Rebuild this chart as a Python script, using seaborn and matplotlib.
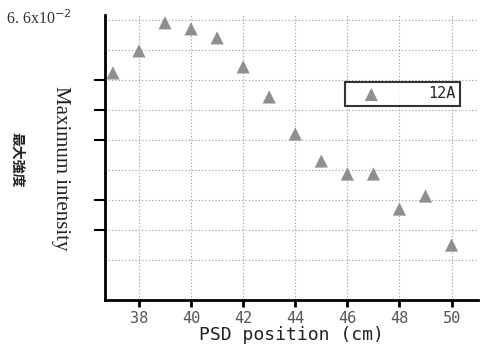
import matplotlib
matplotlib.use("Agg")
import matplotlib.pyplot as plt
import seaborn as sns
import pandas as pd
from matplotlib.ticker import FixedLocator, NullFormatter

# Data
psd_position = [37, 38, 39, 40, 41, 42, 43, 44, 45, 46, 47, 48, 49, 50]
max_intensity = [0.0607, 0.0629, 0.0657, 0.0651, 0.0642, 0.0613, 0.0583,
                 0.0546, 0.0519, 0.0506, 0.0506, 0.0471, 0.0484, 0.0435]
series_label = "12A"
x_ticks = [38, 40, 42, 44, 46, 48, 50]
grid_y = [0.042, 0.045, 0.048, 0.051, 0.054, 0.057, 0.060, 0.063, 0.066]
major_y = [0.045, 0.048, 0.054, 0.057, 0.060]

df = pd.DataFrame({"x": psd_position, "y": max_intensity})

sns.set_style("white")
plt.rcParams["font.family"] = ["DejaVu Sans"]

fig = plt.figure(figsize=(4.8, 3.45), dpi=100)
ax = fig.add_axes([0.219, 0.130, 0.776, 0.827])

sns.scatterplot(data=df, x="x", y="y", marker="^", s=90, color="#8f8f8f",
                edgecolor="none", label=series_label, ax=ax, zorder=3)

ax.set_xlim(36.7, 51.0)
ax.set_ylim(0.038, 0.0665)

ax.set_xticks(x_ticks)
ax.set_xticklabels([str(t) for t in x_ticks], family="DejaVu Sans Mono",
                   fontsize=11, color="#555555")
ax.yaxis.set_major_locator(FixedLocator(major_y))
ax.yaxis.set_major_formatter(NullFormatter())
ax.yaxis.set_minor_locator(FixedLocator(grid_y))

ax.tick_params(axis="both", left=True, bottom=True)
ax.tick_params(axis="x", which="major", direction="out", length=5, width=2,
               color="black", pad=3)
ax.tick_params(axis="y", which="major", direction="out", length=8, width=1.5,
               color="black")
ax.tick_params(axis="y", which="minor", length=0)

ax.grid(False)
ax.grid(True, axis="y", which="both", linestyle=(0, (1, 2)), color="#999999",
        linewidth=0.8)
ax.grid(True, axis="x", which="major", linestyle=(0, (1, 2)), color="#999999",
        linewidth=0.8)

for side in ["top", "right"]:
    ax.spines[side].set_visible(False)
for side in ["left", "bottom"]:
    ax.spines[side].set_linewidth(2)
    ax.spines[side].set_color("black")

ax.set_xlabel("PSD position (cm)", family="DejaVu Sans Mono", fontsize=13,
              color="#222222", labelpad=0)
ax.set_ylabel("")

leg = ax.legend(loc="upper left", bbox_to_anchor=(0.645, 0.765),
                borderaxespad=0, frameon=True, fancybox=False,
                handlelength=2.8, handletextpad=2.3, borderpad=0.3,
                prop={"family": "DejaVu Sans Mono", "size": 11})
leg.get_frame().set_edgecolor("black")
leg.get_frame().set_linewidth(1.5)
leg.set_zorder(5)

fig.text(0.012, 0.945, "6. 6x10$^{-2}$", family="Liberation Serif",
         fontsize=11.5, color="#333333", ha="left", va="center")
fig.text(0.125, 0.513, "Maximum intensity", family="Liberation Serif",
         fontsize=15, color="#222222", rotation=270, ha="center", va="center")
fig.text(0.035, 0.536, "最大強度", family=["Noto Sans CJK JP", "DejaVu Sans"],
         fontsize=10, fontweight="bold", color="#222222", rotation=270,
         ha="center", va="center")

fig.savefig("out.png", dpi=100, facecolor="white")
